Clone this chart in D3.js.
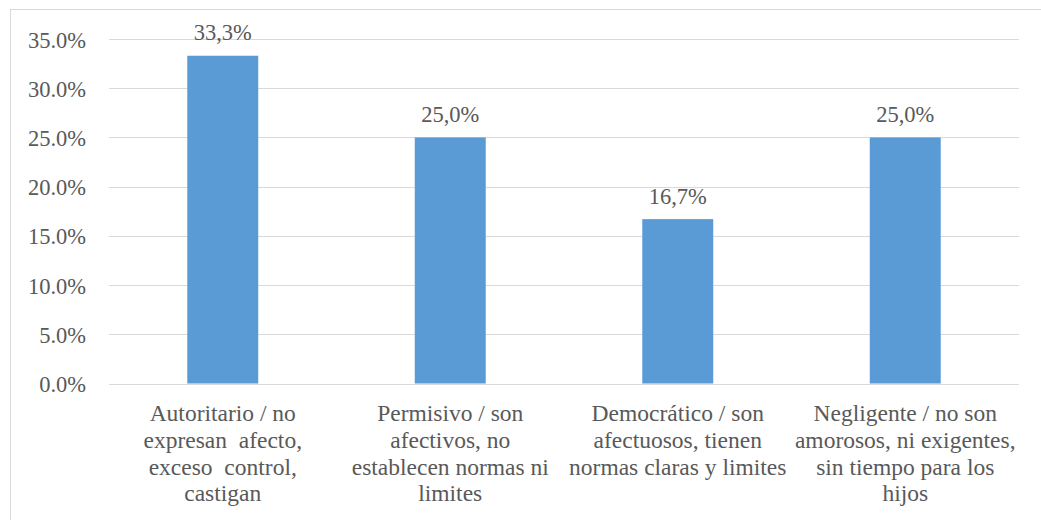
<!DOCTYPE html>
<html><head><meta charset="utf-8">
<script src="https://cdn.jsdelivr.net/npm/d3@7"></script>
<style>body{margin:0;background:#fff;}</style>
</head><body>
<svg id="c" width="1041" height="520" style="font-family:'Liberation Serif','Times New Roman','DejaVu Serif',serif"></svg>
<script>
const categories = [
  ["Autoritario / no", "expresan  afecto,", "exceso  control,", "castigan"],
  ["Permisivo / son", "afectivos, no", "establecen normas ni", "limites"],
  ["Democrático / son", "afectuosos, tienen", "normas claras y limites"],
  ["Negligente / no son", "amorosos, ni exigentes,", "sin tiempo para los", "hijos"]
];
const values = [33.3, 25.0, 16.7, 25.0];
const valueLabels = ["33,3%", "25,0%", "16,7%", "25,0%"];
const yTicks = [0, 5, 10, 15, 20, 25, 30, 35];

const FONT = "'Liberation Serif','Times New Roman','DejaVu Serif',serif";
const TXT = "#595959";
const svg = d3.select("#c");
svg.append("rect").attr("x", 10.5).attr("y", 9.5).attr("width", 1100).attr("height", 600)
  .attr("fill", "none").attr("stroke", "#d9d9d9").attr("stroke-width", 1);

const x = d3.scaleBand().domain(d3.range(categories.length)).range([109, 1019])
  .paddingInner(0.688).paddingOuter(0.344);
const y = d3.scaleLinear().domain([0, 35]).range([383.5, 39]);

svg.append("g").selectAll("line").data(yTicks).join("line")
  .attr("x1", 109).attr("x2", 1019)
  .attr("y1", d => Math.round(y(d)) + 0.5).attr("y2", d => Math.round(y(d)) + 0.5)
  .attr("stroke", "#d9d9d9").attr("stroke-width", 1.2);

const yAxis = d3.axisLeft(y).tickValues(yTicks).tickSize(0).tickFormat(d => d.toFixed(1) + "%");
const gy = svg.append("g").attr("transform", "translate(109,0)").call(yAxis)
  .attr("font-family", FONT).attr("font-size", 22.5);
gy.select(".domain").remove();
gy.selectAll("text").attr("x", -23).attr("dy", "0.36em").attr("fill", TXT)
  .style("font-family", FONT).style("font-size", "22.5px");

svg.append("g").selectAll("rect").data(values).join("rect")
  .attr("x", (d, i) => x(i)).attr("width", x.bandwidth())
  .attr("y", d => y(d)).attr("height", d => y(0) - y(d))
  .attr("fill", "#5b9bd5");

svg.append("g").selectAll("text").data(values).join("text")
  .attr("x", (d, i) => x(i) + x.bandwidth() / 2).attr("y", d => y(d) - 15.5)
  .attr("text-anchor", "middle").attr("fill", TXT)
  .style("font-family", FONT).style("font-size", "22.5px")
  .text((d, i) => valueLabels[i]);

const xAxis = d3.axisBottom(x).tickSize(0).tickFormat("");
const gx = svg.append("g").attr("transform", `translate(0,${y(0)})`).call(xAxis);
gx.select(".domain").remove();

const cl = svg.append("g");
categories.forEach((lines, i) => {
  const cx = x(i) + x.bandwidth() / 2;
  const t = cl.append("text").attr("text-anchor", "middle").attr("fill", TXT)
    .style("font-family", FONT).style("font-size", "23.5px").style("white-space", "pre")
    .attr("x", cx).attr("y", 421);
  lines.forEach((ln, j) => {
    t.append("tspan").attr("x", cx).attr("y", 421 + j * 26.8).text(ln);
  });
});
</script>
</body></html>
